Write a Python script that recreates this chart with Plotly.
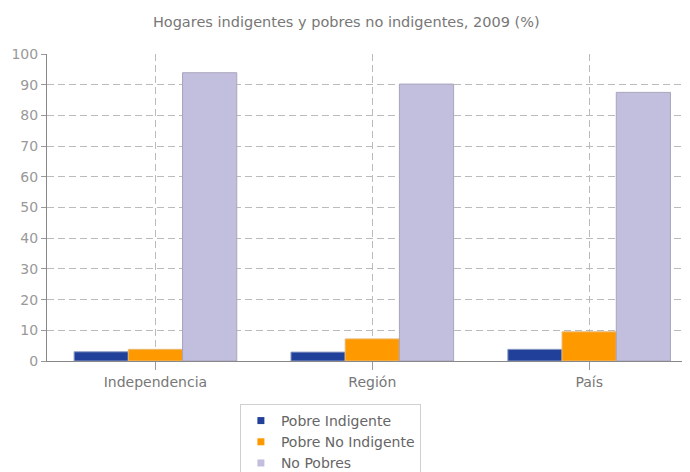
import plotly.graph_objects as go

categories = ["Independencia", "Región", "País"]
pobre_indigente = [3.0, 2.9, 3.8]
pobre_no_indigente = [3.8, 7.2, 9.5]
no_pobres = [93.9, 90.2, 87.5]
series_names = ["Pobre Indigente", "Pobre No Indigente", "No Pobres"]
colors = ["#21409A", "#FF9900", "#C2BEDD"]
line_colors = ["#8f9bc4", "#e8b870", "#a8a4bc"]

fig = go.Figure()
for name, vals, c, lc in zip(series_names, [pobre_indigente, pobre_no_indigente, no_pobres], colors, line_colors):
    fig.add_trace(go.Bar(x=categories, y=vals, name=name, showlegend=False,
                         marker=dict(color=c, line=dict(color=lc, width=1))))
# legend entries with small square markers
for name, c in zip(series_names, colors):
    fig.add_trace(go.Scatter(x=[None], y=[None], mode="markers", name=name,
                             marker=dict(symbol="square", size=7, color=c)))

font = "DejaVu Sans"
W, H = 682, 464
fig.update_layout(
    width=W, height=H,
    margin=dict(l=39, r=0, t=46, b=111, autoexpand=False),
    paper_bgcolor="white", plot_bgcolor="white",
    barmode="group", bargap=0.25, bargroupgap=0,
    title=dict(text="Hogares indigentes y pobres no indigentes, 2009 (%)",
               x=0.496, xref="container", xanchor="center", y=1 - 14 / H, yanchor="middle",
               font=dict(family=font, size=14.5, color="#777777")),
    font=dict(family=font, size=14, color="#777777"),
    legend=dict(orientation="v", x=0.30, xanchor="left", y=-0.14, yanchor="top",
                bordercolor="#d0d0d0", borderwidth=1, bgcolor="white",
                font=dict(family=font, size=14, color="#666666"),
                itemwidth=30, tracegroupgap=0),
    showlegend=True,
)
fig.update_xaxes(range=[-0.5, 2.465], showline=True, linecolor="#888888", linewidth=1,
                 ticks="outside", ticklen=8, tickcolor="#999999",
                 showgrid=True, gridcolor="#bbbbbb", griddash="7px,4px", gridwidth=1,
                 tickfont=dict(family=font, size=14, color="#777777"))
fig.update_yaxes(range=[0, 100], dtick=10, showline=True, linecolor="#888888", linewidth=1,
                 ticks="outside", ticklen=5, tickcolor="#999999",
                 showgrid=True, gridcolor="#bbbbbb", griddash="7px,4px", gridwidth=1,
                 zeroline=False,
                 tickfont=dict(family=font, size=14, color="#999999"))

fig.write_html("out.html")
